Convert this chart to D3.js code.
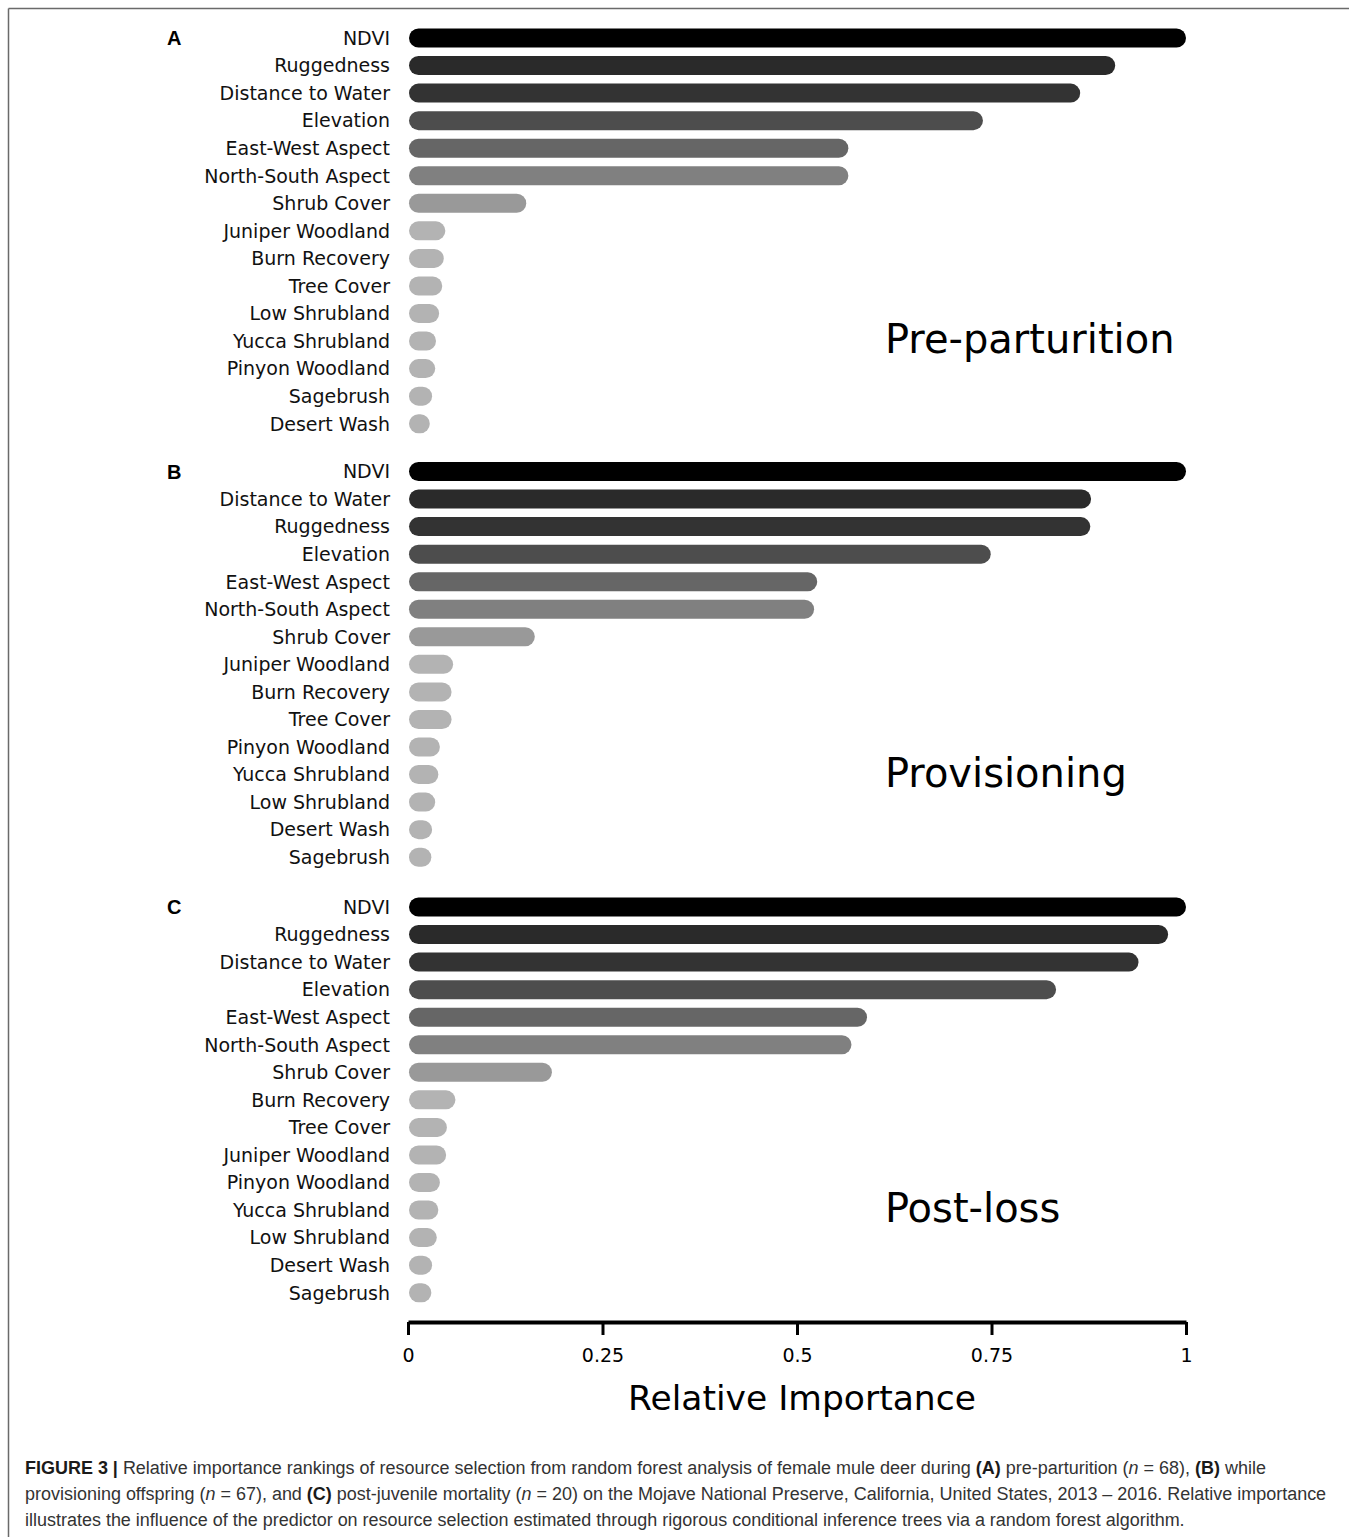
<!DOCTYPE html>
<html>
<head>
<meta charset="utf-8">
<script src="https://cdn.jsdelivr.net/npm/d3@7"></script>
<style>
  html, body { margin: 0; padding: 0; background: #ffffff; }
  svg { display: block; }
</style>
</head>
<body>
<svg id="fig" width="1349" height="1537"></svg>
<script>
// Relative importance of predictors, three reproductive periods
const panelLetters = ["A", "B", "C"];
const panelTitles = ["Pre-parturition", "Provisioning", "Post-loss"];

const preCategories = ["NDVI", "Ruggedness", "Distance to Water", "Elevation", "East-West Aspect",
  "North-South Aspect", "Shrub Cover", "Juniper Woodland", "Burn Recovery", "Tree Cover",
  "Low Shrubland", "Yucca Shrubland", "Pinyon Woodland", "Sagebrush", "Desert Wash"];
const preValues = [1.0, 0.909, 0.864, 0.739, 0.566, 0.566, 0.152, 0.048, 0.046, 0.044,
  0.040, 0.036, 0.035, 0.031, 0.028];

const provCategories = ["NDVI", "Distance to Water", "Ruggedness", "Elevation", "East-West Aspect",
  "North-South Aspect", "Shrub Cover", "Juniper Woodland", "Burn Recovery", "Tree Cover",
  "Pinyon Woodland", "Yucca Shrubland", "Low Shrubland", "Desert Wash", "Sagebrush"];
const provValues = [1.0, 0.878, 0.877, 0.749, 0.526, 0.522, 0.163, 0.058, 0.056, 0.056,
  0.041, 0.039, 0.035, 0.031, 0.030];

const postCategories = ["NDVI", "Ruggedness", "Distance to Water", "Elevation", "East-West Aspect",
  "North-South Aspect", "Shrub Cover", "Burn Recovery", "Tree Cover", "Juniper Woodland",
  "Pinyon Woodland", "Yucca Shrubland", "Low Shrubland", "Desert Wash", "Sagebrush"];
const postValues = [1.0, 0.977, 0.939, 0.833, 0.590, 0.570, 0.185, 0.061, 0.050, 0.049,
  0.041, 0.039, 0.037, 0.031, 0.030];

const tickValues = [0, 0.25, 0.5, 0.75, 1];
const tickLabels = ["0", "0.25", "0.5", "0.75", "1"];
const axisTitle = "Relative Importance";

// grey shade by rank within a panel
const rankShades = ["#000000", "#2a2a2a", "#333333", "#4d4d4d", "#666666", "#808080", "#999999", "#b3b3b3"];

const panels = [
  { letter: panelLetters[0], title: panelTitles[0], cats: preCategories, vals: preValues, top: 38 },
  { letter: panelLetters[1], title: panelTitles[1], cats: provCategories, vals: provValues, top: 471.5 },
  { letter: panelLetters[2], title: panelTitles[2], cats: postCategories, vals: postValues, top: 907 }
];

const svg = d3.select("#fig");
const W = 1349, H = 1537;
const labelFont = "'DejaVu Sans', Verdana, sans-serif";

// figure frame (top and left rules)
svg.append("line").attr("x1", 8.5).attr("x2", W).attr("y1", 8.5).attr("y2", 8.5)
  .attr("stroke", "#6a6a6a").attr("stroke-width", 1.5);
svg.append("line").attr("x1", 8.5).attr("x2", 8.5).attr("y1", 8.5).attr("y2", H)
  .attr("stroke", "#6a6a6a").attr("stroke-width", 1.5);

const x = d3.scaleLinear().domain([0, 1]).range([408, 1186]);
const rowStep = 27.55;
const barH = 19;

panels.forEach(p => {
  const y = d3.scalePoint().domain(p.cats).range([p.top, p.top + rowStep * (p.cats.length - 1)]);
  const g = svg.append("g");
  const rows = p.cats.map((c, i) => ({ cat: c, val: p.vals[i], rank: i }));

  g.selectAll("rect.bar").data(rows).join("rect")
    .attr("class", "bar")
    .attr("x", x(0) + 1)
    .attr("y", d => y(d.cat) - barH / 2)
    .attr("width", d => x(d.val) - x(0) - 1)
    .attr("height", barH)
    .attr("rx", barH / 2).attr("ry", barH / 2)
    .attr("fill", d => rankShades[Math.min(d.rank, rankShades.length - 1)]);

  g.selectAll("text.lab").data(rows).join("text")
    .attr("class", "lab")
    .attr("x", x(0) - 18)
    .attr("y", d => y(d.cat))
    .attr("dy", "0.36em")
    .attr("text-anchor", "end")
    .attr("font-family", labelFont)
    .attr("font-size", 19)
    .attr("fill", "#111")
    .text(d => d.cat);

  g.append("text")
    .attr("x", 167)
    .attr("y", p.top)
    .attr("dy", "0.36em")
    .attr("font-family", "'Liberation Sans', Arial, sans-serif")
    .attr("font-weight", "bold")
    .attr("font-size", 20)
    .attr("fill", "#000")
    .text(p.letter);

  g.append("text")
    .attr("x", x(0.613))
    .attr("y", y(p.cats[11]) + 12)
    .attr("font-family", labelFont)
    .attr("font-size", 40)
    .attr("fill", "#000")
    .text(p.title);
});

// shared x axis
const axisY = 1322;
const axis = d3.axisBottom(x)
  .tickValues(tickValues)
  .tickFormat((d, i) => tickLabels[i])
  .tickSizeInner(13)
  .tickSizeOuter(0)
  .tickPadding(14);
const ax = svg.append("g").attr("transform", `translate(0,${axisY})`).call(axis);
ax.select(".domain").attr("stroke", "#000").attr("stroke-width", 4);
ax.selectAll(".tick line").attr("stroke", "#000").attr("stroke-width", 3);
ax.selectAll(".tick text")
  .attr("font-family", labelFont)
  .attr("font-size", 19)
  .attr("fill", "#000");

svg.append("text")
  .attr("x", (x(0) + x(1)) / 2 + 5)
  .attr("y", 1410)
  .attr("text-anchor", "middle")
  .attr("font-family", labelFont)
  .attr("font-size", 34.5)
  .attr("fill", "#000")
  .text(axisTitle);

// caption
const capLines = [
  [["FIGURE 3 | ", "b"], ["Relative importance rankings of resource selection from random forest analysis of female mule deer during ", ""],
   ["(A)", "b"], [" pre-parturition (", ""], ["n", "i"], [" = 68), ", ""], ["(B)", "b"], [" while", ""]],
  [["provisioning offspring (", ""], ["n", "i"], [" = 67), and ", ""], ["(C)", "b"], [" post-juvenile mortality (", ""],
   ["n", "i"], [" = 20) on the Mojave National Preserve, California, United States, 2013 – 2016. Relative importance", ""]],
  [["illustrates the influence of the predictor on resource selection estimated through rigorous conditional inference trees via a random forest algorithm.", ""]]
];
const capBase = [1474, 1500, 1526];
const capTexts = capLines.map((segs, li) => {
  const t = svg.append("text")
    .attr("x", 25)
    .attr("y", capBase[li])
    .attr("font-family", "'Liberation Sans', Arial, Helvetica, sans-serif")
    .attr("font-size", 17)
    .attr("fill", "#333");
  segs.forEach(([s, f]) => {
    const ts = t.append("tspan").text(s);
    if (f === "b") ts.attr("font-weight", "bold").attr("fill", "#1a1a1a");
    if (f === "i") ts.attr("font-style", "italic");
  });
  return t;
});
// fit caption size to the available line width
const natural = capTexts[1].node().getComputedTextLength();
const fitted = 17 * (1327 - 25) / natural;
capTexts.forEach(t => t.attr("font-size", fitted));
</script>
</body>
</html>
